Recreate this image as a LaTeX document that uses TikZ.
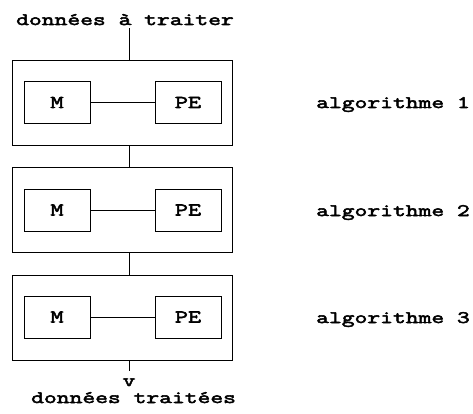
\documentclass[tikz,border=0pt]{standalone}
\usepackage{fontspec}
% wide, heavy slab typewriter face
\newfontfamily\monob{Latin Modern Mono}[FakeStretch=1.42, FakeBold=3]
\newcommand\txtfont{\monob\fontsize{17.5}{19}\selectfont}
\newcommand\labfont{\monob\fontsize{18}{20}\selectfont}
\begin{document}
\begin{tikzpicture}[x=1pt,y=-1pt,
  outer/.style={draw, line width=1pt, minimum width=220pt, minimum height=85pt, inner sep=0pt},
  unit/.style={draw, line width=0.9pt, minimum width=66pt, minimum height=42pt, inner sep=0pt, font=\labfont},
  txt/.style={inner sep=0pt, font=\txtfont, anchor=base west},
  wire/.style={line width=1pt}]
\useasboundingbox (0,0) rectangle (473,414);

% input / output captions
\node[txt] (in) at (16,25) {données à traiter};
\node[txt, anchor=base] (vv) at (129,386) {v};
\node[txt] (out) at (31,403) {données traitées};

% the three stages
\node[outer] (b1) at (122,103.5) {};
\node[outer] (b2) at (122,209.5) {};
\node[outer] (b3) at (122,318) {};

% memory and processing element of each stage
\node[unit] (m1) at (57,102.5) {M\hspace{10pt}};
\node[unit] (p1) at (188,102.5) {PE};
\node[unit] (m2) at (57,210) {M\hspace{10pt}};
\node[unit] (p2) at (188,210) {PE};
\node[unit] (m3) at (57,317) {M\hspace{10pt}};
\node[unit] (p3) at (188,317) {PE};

% stage names
\node[txt] (a1) at (316,108) {algorithme 1};
\node[txt] (a2) at (316,216) {algorithme 2};
\node[txt] (a3) at (316,323) {algorithme 3};

% data path
\coordinate (ax) at (129,0);
\draw[wire, shorten <=3pt] (in.south -| ax) -- (b1.north -| ax);
\draw[wire] (b1.south -| ax) -- (b2.north -| ax);
\draw[wire] (b2.south -| ax) -- (b3.north -| ax);
\draw[wire, shorten >=7pt] (b3.south -| ax) -- (vv.north -| ax);

\draw[wire] (m1) -- (p1);
\draw[wire] (m2) -- (p2);
\draw[wire] (m3) -- (p3);
\end{tikzpicture}
\end{document}
